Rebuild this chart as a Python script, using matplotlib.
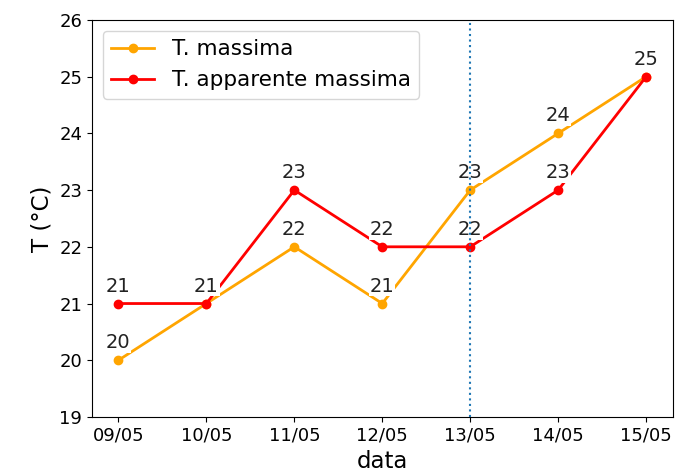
import numpy as np
import matplotlib.pyplot as plt

date = ['09/05', '10/05', '11/05', '12/05', '13/05', '14/05', '15/05']
tmax = [20, 21, 22, 21, 23, 24, 25]
tapp = [21, 21, 23, 22, 22, 23, 25]

fig = plt.figure(figsize=(6.79, 4.74), dpi=100)
ax = fig.add_axes([0.1355, 0.1203, 0.855, 0.8377])

x = np.arange(len(date))
ax.plot(x, tmax, '-o', color='orange', lw=2, ms=6, label='T. massima')
ax.plot(x, tapp, '-o', color='red', lw=2, ms=6, label='T. apparente massima')

for serie in (tmax, tapp):
    for i, v in enumerate(serie):
        ax.annotate(str(v), (x[i], v), xytext=(0, 12.5), textcoords='offset points',
                    ha='center', va='center', fontsize=14, color='#222222',
                    bbox=dict(fc='white', ec='none', pad=0.5))

ax.axvline(4, color='tab:blue', ls=':', lw=1.5, zorder=3)

ax.set_xticks(x)
ax.set_xticklabels(date)
ax.set_ylim(19, 26)
ax.set_xlim(-0.3, 6.3)
ax.tick_params(labelsize=13)
ax.set_xlabel('data', fontsize=16.5, labelpad=3.5)
ax.set_ylabel('T (°C)', fontsize=16.5)
ax.legend(loc='upper left', fontsize=15.5)

fig.savefig('out.png', dpi=100)
